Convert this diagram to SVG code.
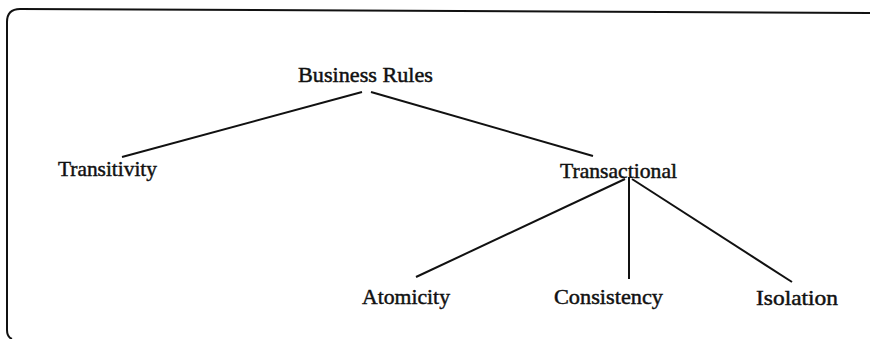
<svg xmlns="http://www.w3.org/2000/svg" width="870" height="339" viewBox="0 0 870 339">
<style>
.t{font-family:"Liberation Serif","Times New Roman",serif;font-size:21px;fill:#111;stroke:#111;stroke-width:0.45;}
.l{stroke:#111;stroke-width:2;fill:none;}
</style>
<rect width="870" height="339" fill="#fff"/>
<path class="l" d="M12,339 Q7,337 7,330 V22 Q7,9 20,9 L870,13"/>
<g id="connectors">
<line class="l" x1="362" y1="92" x2="122" y2="157"/>
<line class="l" x1="371" y1="92" x2="593" y2="156"/>
<line class="l" x1="625" y1="179" x2="416" y2="277"/>
<line class="l" x1="629" y1="177" x2="629" y2="279"/>
<line class="l" x1="632" y1="179" x2="792" y2="282"/>
</g>
<g id="business-rules"><text class="t" x="298" y="82" textLength="135" lengthAdjust="spacingAndGlyphs">Business Rules</text></g>
<g id="transitivity"><text class="t" x="58" y="176" textLength="99" lengthAdjust="spacingAndGlyphs">Transitivity</text></g>
<g id="transactional"><text class="t" x="560" y="178" textLength="117" lengthAdjust="spacingAndGlyphs">Transactional</text></g>
<g id="atomicity"><text class="t" x="362" y="304" textLength="88" lengthAdjust="spacingAndGlyphs">Atomicity</text></g>
<g id="consistency"><text class="t" x="554" y="304" textLength="109" lengthAdjust="spacingAndGlyphs">Consistency</text></g>
<g id="isolation"><text class="t" x="756" y="305" textLength="82" lengthAdjust="spacingAndGlyphs">Isolation</text></g>
</svg>
